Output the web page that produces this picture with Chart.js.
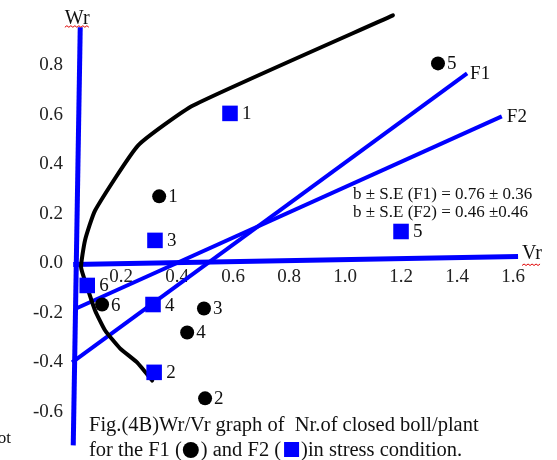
<!DOCTYPE html>
<html><head><meta charset="utf-8">
<script src="https://cdn.jsdelivr.net/npm/chart.js@4.4.0/dist/chart.umd.min.js"></script>
<style>html,body{margin:0;padding:0;background:#fff;}canvas{display:block;}</style>
</head><body>
<canvas id="c" width="557" height="460"></canvas>
<script>
// ---- data ----
const pointNames = ['1', '2', '3', '4', '5', '6'];
const f1Vr = [0.336, 0.500, 0.496, 0.436, 1.332, 0.132];
const f1Wr = [0.271, -0.545, -0.182, -0.279, 0.808, -0.166];
const f2Vr = [0.589, 0.318, 0.321, 0.314, 1.200, 0.079];
const f2Wr = [0.606, -0.440, 0.093, -0.166, 0.129, -0.089];

const parabolaVr = [0.311, 0.257, 0.196, 0.143, 0.107, 0.079, 0.057, 0.071, 0.107, 0.261, 0.457, 1.171];
const parabolaWr = [-0.473, -0.400, -0.343, -0.271, -0.190, -0.097, -0.016, 0.093, 0.214, 0.477, 0.638, 1.002];

const lineNames = ['F1', 'F2'];
const f1LineVr = [0.025, 1.436];
const f1LineWr = [-0.400, 0.768];
const f2LineVr = [0.043, 1.560];
const f2LineWr = [-0.180, 0.594];

const wrAxisVr = [0.054, 0.029];
const wrAxisWr = [0.954, -0.735];
const vrAxisVr = [0.029, 1.618];
const vrAxisWr = [-0.004, 0.028];

const xTicks = [0.2, 0.4, 0.6, 0.8, 1.0, 1.2, 1.4, 1.6];
const yTicks = [-0.6, -0.4, -0.2, 0.0, 0.2, 0.4, 0.6, 0.8];

const xTitle = 'Vr';
const yTitle = 'Wr';
const statLines = ['b \u00b1 S.E (F1) = 0.76 \u00b1 0.36', 'b \u00b1 S.E (F2) = 0.46 \u00b10.46'];
const captionLine1 = 'Fig.(4B)Wr/Vr graph of  Nr.of closed boll/plant';
const captionLine2 = ['for the F1 (', ') and F2 (', ')in stress condition.'];
const strayText = 'ot';

// ---- helpers ----
const pts = (xs, ys) => xs.map((v, i) => ({x: v, y: ys[i]}));
const BLUE = '#0000ff';
const SERIF = '"Liberation Serif", "Times New Roman", serif';

function wavy(ctx, x0, x1, y) {
  ctx.save();
  ctx.strokeStyle = '#e00000';
  ctx.lineWidth = 1;
  ctx.beginPath();
  let up = true;
  ctx.moveTo(x0, y);
  for (let x = x0 + 2; x <= x1; x += 2) {
    ctx.lineTo(x, up ? y - 1.5 : y);
    up = !up;
  }
  ctx.stroke();
  ctx.restore();
}

const annotate = {
  id: 'annotate',
  afterDatasetsDraw(chart) {
    const ctx = chart.ctx;
    const xs = chart.scales.x, ys = chart.scales.y;
    ctx.save();
    ctx.fillStyle = '#111';
    ctx.font = '19px ' + SERIF;
    ctx.textAlign = 'left';
    ctx.textBaseline = 'middle';
    f1Vr.forEach((v, i) => {
      ctx.fillText(pointNames[i], xs.getPixelForValue(v) + 9, ys.getPixelForValue(f1Wr[i]) + 1);
    });
    f2Vr.forEach((v, i) => {
      ctx.fillText(pointNames[i], xs.getPixelForValue(v) + 12, ys.getPixelForValue(f2Wr[i]) + 1);
    });
    ctx.fillText(lineNames[0], xs.getPixelForValue(f1LineVr[1]) + 3, ys.getPixelForValue(f1LineWr[1]) + 1);
    ctx.fillText(lineNames[1], xs.getPixelForValue(f2LineVr[1]) + 5, ys.getPixelForValue(f2LineWr[1]) + 1);

    ctx.font = '20px ' + SERIF;
    ctx.textBaseline = 'alphabetic';
    const wx = xs.getPixelForValue(wrAxisVr[0]), wy = ys.getPixelForValue(wrAxisWr[0]);
    ctx.textAlign = 'center';
    ctx.fillText(yTitle, wx - 3, wy - 3);
    const ww = ctx.measureText(yTitle).width;
    wavy(ctx, wx - 3 - ww / 2, wx - 3 + ww / 2, wy);
    const vx = xs.getPixelForValue(vrAxisVr[1]), vy = ys.getPixelForValue(vrAxisWr[1]);
    ctx.textAlign = 'left';
    ctx.fillText(xTitle, vx + 4, vy + 3);
    const vw = ctx.measureText(xTitle).width;
    wavy(ctx, vx + 4, vx + 4 + vw, vy + 9);

    ctx.font = '17px ' + SERIF;
    ctx.fillText(statLines[0], 353, 199);
    ctx.fillText(statLines[1], 353, 217);

    ctx.font = '20.5px ' + SERIF;
    ctx.fillText(captionLine1, 89, 431);
    let x = 89;
    const by = 456;
    ctx.fillText(captionLine2[0], x, by);
    x += ctx.measureText(captionLine2[0]).width + 1;
    ctx.beginPath();
    ctx.fillStyle = '#000';
    ctx.arc(x + 8, by - 6, 8, 0, Math.PI * 2);
    ctx.fill();
    x += 18;
    ctx.fillStyle = '#111';
    ctx.fillText(captionLine2[1], x, by);
    x += ctx.measureText(captionLine2[1]).width + 3;
    ctx.fillStyle = BLUE;
    ctx.fillRect(x, by - 14, 15, 15);
    x += 17;
    ctx.fillStyle = '#111';
    ctx.fillText(captionLine2[2], x, by);

    ctx.font = '17px ' + SERIF;
    ctx.textAlign = 'right';
    ctx.fillText(strayText, 11, 443);
    ctx.restore();
  }
};

new Chart(document.getElementById('c'), {
  type: 'scatter',
  data: {
    datasets: [
      {label: 'F1', data: pts(f1Vr, f1Wr), pointStyle: 'circle', pointRadius: 7, pointHoverRadius: 7,
       backgroundColor: '#000', borderColor: '#000', borderWidth: 0, order: 1},
      {label: 'F2', data: pts(f2Vr, f2Wr), pointStyle: 'rect', pointRadius: 11, pointHoverRadius: 11,
       backgroundColor: BLUE, borderColor: BLUE, borderWidth: 0, order: 0},
      {label: 'parabola', data: pts(parabolaVr, parabolaWr), showLine: true, borderColor: '#000', borderWidth: 4,
       pointRadius: 0, tension: 0.15, borderJoinStyle: 'round', borderCapStyle: 'round', order: 2},
      {label: 'F1 line', data: pts(f1LineVr, f1LineWr), showLine: true, borderColor: BLUE, borderWidth: 4,
       pointRadius: 0, order: 3},
      {label: 'F2 line', data: pts(f2LineVr, f2LineWr), showLine: true, borderColor: BLUE, borderWidth: 4,
       pointRadius: 0, order: 3},
      {label: 'Wr axis', data: pts(wrAxisVr, wrAxisWr), showLine: true, borderColor: BLUE, borderWidth: 5,
       pointRadius: 0, order: 4},
      {label: 'Vr axis', data: pts(vrAxisVr, vrAxisWr), showLine: true, borderColor: BLUE, borderWidth: 5,
       pointRadius: 0, order: 4}
    ]
  },
  options: {
    responsive: false,
    animation: false,
    devicePixelRatio: 1,
    layout: {autoPadding: false, padding: {left: 0, right: 2, top: 1, bottom: 1}},
    plugins: {legend: {display: false}, tooltip: {enabled: false}},
    scales: {
      x: {
        type: 'linear', min: -0.004, max: 1.75,
        position: {y: 0},
        grid: {display: false, drawTicks: false},
        border: {display: false},
        afterFit: s => { s.height = 0; s.paddingLeft = 0; s.paddingRight = 0; },
        afterBuildTicks: s => { s.ticks = xTicks.map(v => ({value: v})); },
        ticks: {font: {family: SERIF, size: 19}, color: '#222', padding: 2, maxRotation: 0,
                autoSkip: false, callback: v => Number(v).toFixed(1)}
      },
      y: {
        type: 'linear', min: -0.79, max: 1.06,
        position: 'left',
        grid: {display: false, drawTicks: false},
        border: {display: false},
        afterFit: s => { s.width = 64; s.paddingTop = 0; s.paddingBottom = 0; },
        afterBuildTicks: s => { s.ticks = yTicks.map(v => ({value: v})); },
        ticks: {font: {family: SERIF, size: 19}, color: '#222', padding: 1,
                autoSkip: false, callback: v => Number(v).toFixed(1)}
      }
    }
  },
  plugins: [annotate]
});
</script>
</body></html>
